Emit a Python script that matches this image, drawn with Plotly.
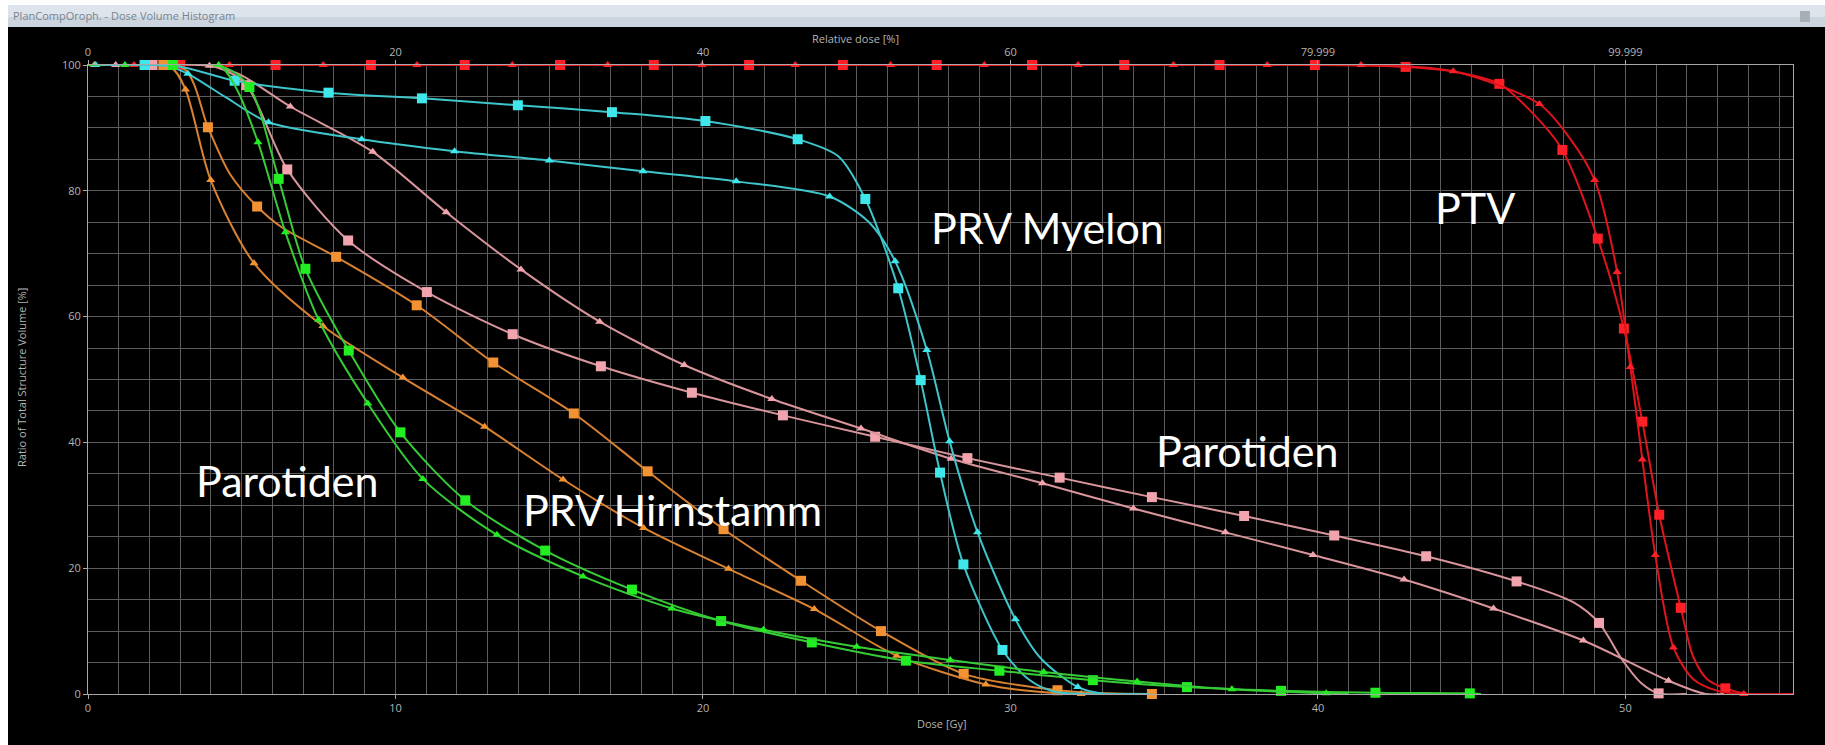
import plotly.graph_objects as go

# ---------------------------------------------------------------
# Dose volume histogram: two plans (squares / triangles) per structure
# ---------------------------------------------------------------

# Axis ticks
dose_ticks = [0, 10, 20, 30, 40, 50]
dose_tick_text = ["0", "10", "20", "30", "40", "50"]
rel_tick_text = ["0", "20", "40", "60", "79.999", "99.999"]
vol_ticks = [0, 20, 40, 60, 80, 100]
vol_tick_text = ["0", "20", "40", "60", "80", "100"]
dose_max = 55.45

# PTV (red)
ptv_sq_dose = [0, 40.0, 42.85, 44.5, 45.9, 46.95, 47.95, 49.1, 49.95, 50.55, 51.1, 51.8, 52.2, 52.65, 53.25, 54.0, 55.45]
ptv_sq_vol = [100, 100, 99.7, 98.9, 97.0, 92.5, 86.5, 72.4, 58.1, 43.3, 28.5, 13.7, 6.0, 2.4, 0.9, 0, 0]
ptv_sq_mark_dose = [3.0, 6.1, 9.2, 12.25, 15.35, 18.4, 21.5, 24.55, 27.6, 30.7, 33.7, 36.8, 39.9,
                    42.85, 45.9, 47.95, 49.1, 49.95, 50.55, 51.1, 51.8, 53.25]
ptv_sq_mark_vol = [100, 100, 100, 100, 100, 100, 100, 100, 100, 100, 100, 100, 100,
                   99.7, 97.0, 86.5, 72.4, 58.1, 43.3, 28.5, 13.7, 0.9]

ptv_tri_dose = [0, 41.4, 44.4, 47.2, 48.2, 49.0, 49.73, 50.16, 50.55, 50.97, 51.56, 52.2, 53.0, 53.85, 55.45]
ptv_tri_vol = [100, 100, 99.0, 93.8, 88.3, 81.7, 67.1, 52.0, 37.3, 22.1, 7.4, 2.4, 0.5, 0, 0]
ptv_tri_mark_dose = [1.5, 4.6, 7.65, 10.7, 13.8, 16.9, 19.97, 23.0, 26.1, 29.15, 32.2, 35.3, 38.35, 41.4,
                     44.4, 47.2, 49.0, 49.73, 50.16, 50.55, 50.97, 51.56, 53.85]
ptv_tri_mark_vol = [100, 100, 100, 100, 100, 100, 100, 100, 100, 100, 100, 100, 100, 100,
                    99.0, 93.8, 81.7, 67.1, 52.0, 37.3, 22.1, 7.4, 0]

# PRV Myelon (cyan)
mye_sq_dose = [0, 2.9, 4.77, 7.82, 10.86, 13.98, 17.04, 20.08, 23.08, 24.4, 25.28, 26.35, 27.08, 27.71,
               28.47, 29.74, 30.6, 31.4, 32.5, 34.2]
mye_sq_vol = [100, 99.8, 97.5, 95.6, 94.7, 93.6, 92.5, 91.1, 88.2, 85.5, 78.7, 64.5, 49.9, 35.2,
              20.6, 7.0, 2.3, 0.4, 0, 0]
mye_sq_mark_dose = [1.84, 4.77, 7.82, 10.86, 13.98, 17.04, 20.08, 23.08, 25.28, 26.35, 27.08, 27.71, 28.47, 29.74]
mye_sq_mark_vol = [100, 97.5, 95.6, 94.7, 93.6, 92.5, 91.1, 88.2, 78.7, 64.5, 49.9, 35.2, 20.6, 7.0]

mye_tri_dose = [0, 2.6, 3.25, 4.5, 5.87, 8.9, 11.92, 15.0, 18.05, 21.08, 24.12, 25.4, 26.25, 27.28,
                28.02, 28.93, 30.16, 31.0, 32.19, 33.1, 34.5]
mye_tri_vol = [100, 99.8, 98.6, 94.8, 90.9, 88.2, 86.3, 84.8, 83.1, 81.5, 79.1, 75.0, 68.8, 54.7,
               40.2, 25.7, 11.9, 5.6, 1.1, 0, 0]
mye_tri_mark_dose = [0.25, 3.25, 5.87, 8.9, 11.92, 15.0, 18.05, 21.08, 24.12, 26.25, 27.28, 28.02, 28.93, 30.16, 32.19]
mye_tri_mark_vol = [100, 98.6, 90.9, 88.2, 86.3, 84.8, 83.1, 81.5, 79.1, 68.8, 54.7, 40.2, 25.7, 11.9, 1.1]

# Parotiden (pink)
par_sq_dose = [0, 4.2, 5.15, 6.48, 8.46, 11.02, 13.81, 16.68, 19.64, 22.6, 25.6, 28.6, 31.6, 34.6, 37.6,
               40.53, 43.52, 46.46, 48.3, 49.14, 49.9, 50.5, 51.08, 52.0]
par_sq_vol = [100, 99.6, 96.8, 83.4, 72.1, 63.9, 57.2, 52.1, 47.9, 44.3, 40.9, 37.5, 34.4, 31.3, 28.3,
              25.2, 21.9, 17.9, 14.6, 11.3, 5.4, 1.8, 0.1, 0]
par_sq_mark_dose = [2.1, 5.15, 6.48, 8.46, 11.02, 13.81, 16.68, 19.64, 22.6, 25.6, 28.6, 31.6, 34.6, 37.6,
                    40.53, 43.52, 46.46, 49.14, 51.08]
par_sq_mark_vol = [100, 96.8, 83.4, 72.1, 63.9, 57.2, 52.1, 47.9, 44.3, 40.9, 37.5, 34.4, 31.3, 28.3,
                   25.2, 21.9, 17.9, 11.3, 0.1]

par_tri_dose = [0, 3.95, 4.9, 6.58, 9.26, 11.65, 14.08, 16.64, 19.39, 22.24, 25.14, 28.07, 31.04, 34.0,
                36.99, 39.84, 42.8, 45.71, 48.63, 51.4, 52.6, 53.2]
par_tri_vol = [100, 99.9, 98.6, 93.4, 86.2, 76.6, 67.5, 59.2, 52.3, 46.9, 42.2, 37.4, 33.5, 29.5,
               25.7, 22.1, 18.2, 13.6, 8.5, 2.1, 0, 0]
par_tri_mark_dose = [0.9, 3.95, 6.58, 9.26, 11.65, 14.08, 16.64, 19.39, 22.24, 25.14, 28.07, 31.04, 34.0,
                     36.99, 39.84, 42.8, 45.71, 48.63, 51.4]
par_tri_mark_vol = [100, 99.9, 93.4, 86.2, 76.6, 67.5, 59.2, 52.3, 46.9, 42.2, 37.4, 33.5, 29.5,
                    25.7, 22.1, 18.2, 13.6, 8.5, 2.1]

# PRV Hirnstamm (orange)
hst_sq_dose = [0, 3.1, 3.9, 4.6, 5.5, 6.3, 8.07, 10.69, 13.18, 15.8, 18.2, 20.67, 23.19, 25.79, 28.48,
               31.53, 33.2, 34.6]
hst_sq_vol = [100, 99.5, 90.1, 82.8, 77.5, 74.2, 69.5, 61.8, 52.7, 44.6, 35.4, 26.2, 18.0, 10.0, 3.2,
              0.6, 0.1, 0]
hst_sq_mark_dose = [2.45, 3.9, 5.5, 8.07, 10.69, 13.18, 15.8, 18.2, 20.67, 23.19, 25.79, 28.48, 31.53, 34.6]
hst_sq_mark_vol = [100, 90.1, 77.5, 69.5, 61.8, 52.7, 44.6, 35.4, 26.2, 18.0, 10.0, 3.2, 0.6, 0]

hst_tri_dose = [0, 2.7, 3.17, 3.99, 5.4, 7.64, 10.24, 12.9, 15.45, 18.07, 20.83, 23.62, 26.3, 29.2,
                31.0, 32.3, 33.0]
hst_tri_vol = [100, 99.6, 96.1, 81.7, 68.5, 58.5, 50.3, 42.5, 34.1, 26.4, 19.9, 13.5, 6.1, 1.5,
               0.3, 0, 0]
hst_tri_mark_dose = [0.2, 3.17, 3.99, 5.4, 7.64, 10.24, 12.9, 15.45, 18.07, 20.83, 23.62, 26.3, 29.2, 32.3]
hst_tri_mark_vol = [100, 96.1, 81.7, 68.5, 58.5, 50.3, 42.5, 34.1, 26.4, 19.9, 13.5, 6.1, 1.5, 0]

# Parotiden, second structure set (green)
grn_sq_dose = [0, 4.4, 5.25, 6.2, 7.07, 8.48, 10.16, 12.27, 14.87, 17.69, 20.59, 23.54, 26.6, 29.64,
               32.68, 35.74, 38.8, 41.87, 44.94, 45.3]
grn_sq_vol = [100, 99.7, 96.5, 81.9, 67.6, 54.6, 41.6, 30.8, 22.8, 16.6, 11.6, 8.2, 5.3, 3.7,
              2.2, 1.1, 0.5, 0.2, 0.1, 0]
grn_sq_mark_dose = [2.76, 5.25, 6.2, 7.07, 8.48, 10.16, 12.27, 14.87, 17.69, 20.59, 23.54, 26.6, 29.64,
                    32.68, 35.74, 38.8, 41.87, 44.94]
grn_sq_mark_vol = [100, 96.5, 81.9, 67.6, 54.6, 41.6, 30.8, 22.8, 16.6, 11.6, 8.2, 5.3, 3.7,
                   2.2, 1.1, 0.5, 0.2, 0.1]

grn_tri_dose = [0, 4.25, 4.8, 5.53, 6.42, 7.5, 9.1, 10.89, 13.3, 16.1, 18.99, 21.97, 25.0, 28.04,
                31.08, 34.12, 37.2, 40.27, 41.0]
grn_tri_vol = [100, 100, 96.5, 87.7, 73.4, 59.5, 46.2, 34.2, 25.3, 18.7, 13.6, 10.2, 7.5, 5.4,
               3.5, 2.0, 0.75, 0.1, 0]
grn_tri_mark_dose = [1.2, 4.25, 5.53, 6.42, 7.5, 9.1, 10.89, 13.3, 16.1, 18.99, 21.97, 25.0, 28.04,
                     31.08, 34.12, 37.2, 40.27]
grn_tri_mark_vol = [100, 100, 87.7, 73.4, 59.5, 46.2, 34.2, 25.3, 18.7, 13.6, 10.2, 7.5, 5.4,
                    3.5, 2.0, 0.75, 0.1]

# Structure labels written on the chart
label_text = ["PTV", "PRV Myelon", "Parotiden", "Parotiden", "PRV Hirnstamm"]
label_dose = [45.1, 31.2, 37.7, 6.5, 19.0]
label_vol = [77.3, 74.1, 38.7, 34.0, 29.4]

# ---------------------------------------------------------------
W, H = 1825, 745
L, R, T, B = 88, 1793, 65, 694          # plot area in pixels

def px_x(px):
    return (px - L) / (R - L)

def px_y(py):
    return (B - py) / (B - T)

GRID = "#5c5c5c"
AXIS = "#a8a8a8"
TICK = "#b4b4b4"

fig = go.Figure()

def add_curve(dose, vol, mdose, mvol, line_color, mark_color, symbol, size):
    fig.add_trace(go.Scatter(
        x=dose, y=vol, mode="lines",
        line=dict(color=line_color, width=2, shape="spline", smoothing=0.8),
        cliponaxis=False, hoverinfo="skip", showlegend=False))
    fig.add_trace(go.Scatter(
        x=mdose, y=mvol, mode="markers",
        marker=dict(symbol=symbol, size=size, color=mark_color, line=dict(width=0)),
        cliponaxis=False, hoverinfo="skip", showlegend=False))

RED_L, RED_M = "#e0141c", "#ff1f26"
PINK_L, PINK_M = "#d9959c", "#f2a4ae"
ORG_L, ORG_M = "#d98232", "#f29232"
CYAN_L, CYAN_M = "#3ec6cc", "#3fe6ea"
GRN_L, GRN_M = "#36cc36", "#22ee22"

add_curve(ptv_sq_dose, ptv_sq_vol, ptv_sq_mark_dose, ptv_sq_mark_vol, RED_L, RED_M, "square", 10)
add_curve(ptv_tri_dose, ptv_tri_vol, ptv_tri_mark_dose, ptv_tri_mark_vol, RED_L, RED_M, "triangle-up", 8)
add_curve(par_sq_dose, par_sq_vol, par_sq_mark_dose, par_sq_mark_vol, PINK_L, PINK_M, "square", 10)
add_curve(par_tri_dose, par_tri_vol, par_tri_mark_dose, par_tri_mark_vol, PINK_L, PINK_M, "triangle-up", 8)
add_curve(hst_sq_dose, hst_sq_vol, hst_sq_mark_dose, hst_sq_mark_vol, ORG_L, ORG_M, "square", 10)
add_curve(hst_tri_dose, hst_tri_vol, hst_tri_mark_dose, hst_tri_mark_vol, ORG_L, ORG_M, "triangle-up", 8)
add_curve(mye_sq_dose, mye_sq_vol, mye_sq_mark_dose, mye_sq_mark_vol, CYAN_L, CYAN_M, "square", 10)
add_curve(mye_tri_dose, mye_tri_vol, mye_tri_mark_dose, mye_tri_mark_vol, CYAN_L, CYAN_M, "triangle-up", 8)
add_curve(grn_sq_dose, grn_sq_vol, grn_sq_mark_dose, grn_sq_mark_vol, GRN_L, GRN_M, "square", 10)
add_curve(grn_tri_dose, grn_tri_vol, grn_tri_mark_dose, grn_tri_mark_vol, GRN_L, GRN_M, "triangle-up", 8)

# empty trace that carries the relative-dose axis on top
fig.add_trace(go.Scatter(x=[0, dose_max], y=[None, None], xaxis="x2", mode="lines",
                         hoverinfo="skip", showlegend=False))

tickfont = dict(family="Open Sans", size=11, color=TICK)

fig.update_layout(
    width=W, height=H,
    margin=dict(l=L, r=W - R, t=T, b=H - B, pad=0),
    paper_bgcolor="#000000", plot_bgcolor="#000000",
    showlegend=False,
    xaxis=dict(range=[0, dose_max], tickmode="array", tickvals=dose_ticks, ticktext=dose_tick_text,
               showgrid=True, gridcolor=GRID, gridwidth=1, zeroline=False,
               minor=dict(dtick=1, tick0=0, showgrid=True, gridcolor=GRID, gridwidth=1, ticks=""),
               showline=True, linecolor=AXIS, linewidth=1, mirror=True,
               ticks="outside", ticklen=4, tickcolor=AXIS, tickfont=tickfont),
    xaxis2=dict(range=[0, dose_max], overlaying="x", side="top", tickmode="array",
                tickvals=dose_ticks, ticktext=rel_tick_text, showgrid=False, zeroline=False,
                showline=False, ticks="outside", ticklen=4, tickcolor=AXIS, tickfont=tickfont),
    yaxis=dict(range=[0, 100], tickmode="array", tickvals=vol_ticks, ticktext=vol_tick_text,
               showgrid=True, gridcolor=GRID, gridwidth=1, zeroline=False,
               minor=dict(dtick=5, tick0=0, showgrid=True, gridcolor=GRID, gridwidth=1, ticks=""),
               showline=True, linecolor=AXIS, linewidth=1, mirror=True,
               ticks="outside", ticklen=4, tickcolor=AXIS, tickfont=tickfont),
)

# window frame: white margin, title bar
shapes = [
    dict(type="rect", xref="paper", yref="paper", x0=px_x(0), x1=px_x(8), y0=px_y(H), y1=px_y(0),
         fillcolor="#ffffff", line=dict(width=0), layer="above"),
    dict(type="rect", xref="paper", yref="paper", x0=px_x(0), x1=px_x(W), y0=px_y(5), y1=px_y(0),
         fillcolor="#ffffff", line=dict(width=0), layer="above"),
    dict(type="rect", xref="paper", yref="paper", x0=px_x(8), x1=px_x(W), y0=px_y(27), y1=px_y(5),
         fillcolor="#dde4eb", line=dict(width=0), layer="above"),
    dict(type="rect", xref="paper", yref="paper", x0=px_x(8), x1=px_x(W), y0=px_y(27), y1=px_y(17),
         fillcolor="#ccd5de", line=dict(width=0), layer="above"),
    dict(type="rect", xref="paper", yref="paper", x0=px_x(1800), x1=px_x(1810), y0=px_y(22), y1=px_y(11),
         fillcolor="#a6aeb6", line=dict(width=0), layer="above"),
]
fig.update_layout(shapes=shapes)

annotations = [
    dict(text="PlanCompOroph. - Dose Volume Histogram", xref="paper", yref="paper",
         x=px_x(11), y=px_y(16), xanchor="left", yanchor="middle", showarrow=False,
         font=dict(family="Open Sans", size=11, color="#7a838e")),
    dict(text="Relative dose [%]", xref="paper", yref="paper", x=px_x(855), y=px_y(38),
         xanchor="center", yanchor="middle", showarrow=False, font=tickfont),
    dict(text="Dose [Gy]", xref="paper", yref="paper", x=px_x(942), y=px_y(723),
         xanchor="center", yanchor="middle", showarrow=False, font=tickfont),
    dict(text="Ratio of Total Structure Volume [%]", xref="paper", yref="paper", x=px_x(21), y=px_y(378),
         xanchor="center", yanchor="middle", textangle=-90, showarrow=False, font=tickfont),
]
for txt, d, v in zip(label_text, label_dose, label_vol):
    annotations.append(dict(text=txt, x=d, y=v, xref="x", yref="y", showarrow=False,
                            xanchor="center", yanchor="middle",
                            font=dict(family="Lato", size=43, color="#ffffff")))
fig.update_layout(annotations=annotations)

fig.write_html("out.html")
